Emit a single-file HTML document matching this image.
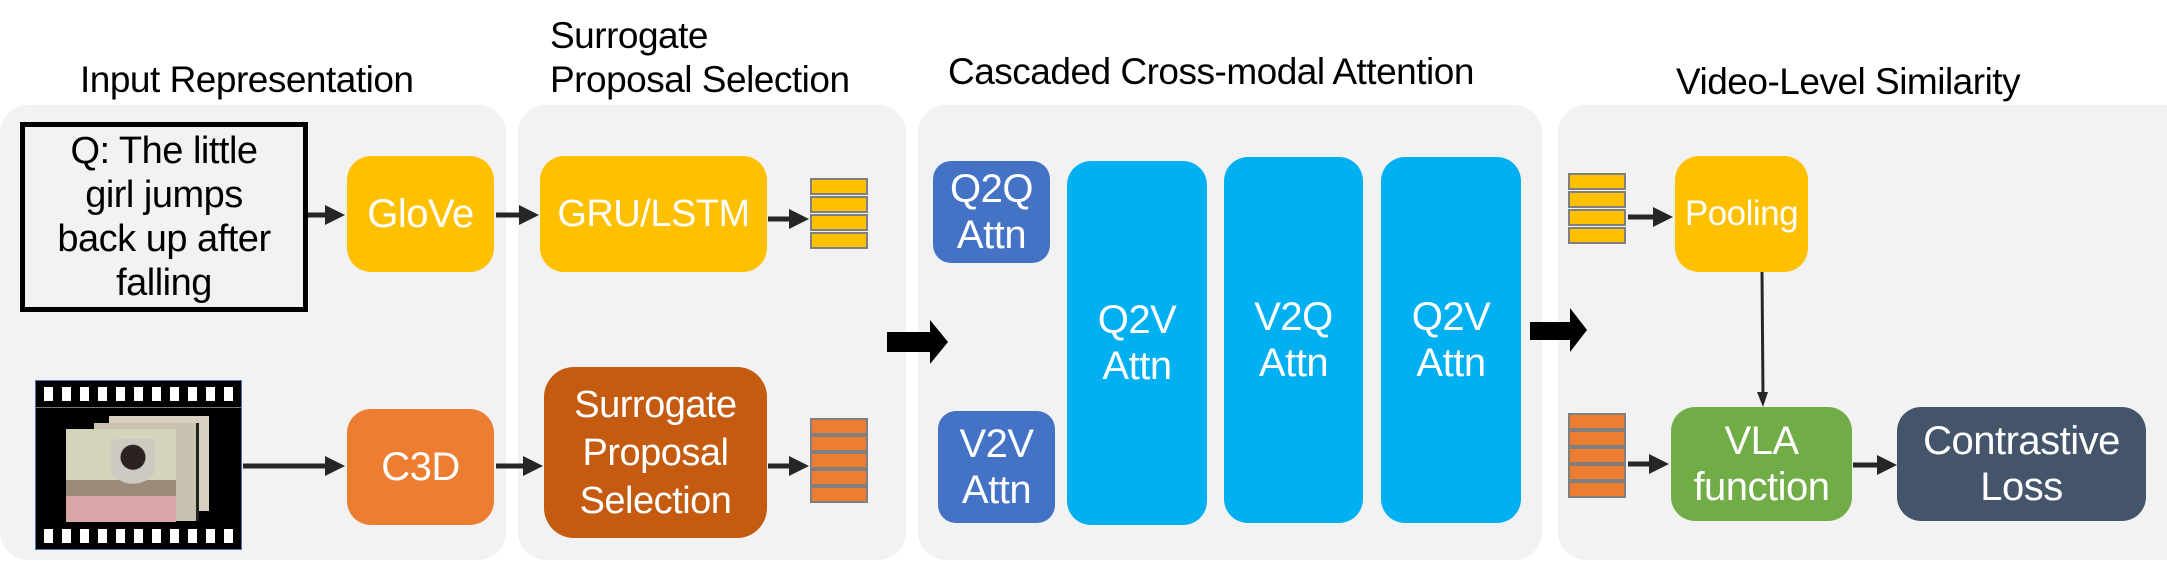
<!DOCTYPE html>
<html><head><meta charset="utf-8"><style>
body{margin:0;width:2167px;height:563px;background:#fff;position:relative;overflow:hidden;font-family:"Liberation Sans",sans-serif;}
.a{position:absolute;box-sizing:border-box;}
.p{background:#f2f2f2;border-radius:28px;}
.t{color:#000;font-size:37px;line-height:44px;white-space:nowrap;letter-spacing:-0.5px;}
.n{display:flex;align-items:center;justify-content:center;text-align:center;color:#fff;font-size:40px;line-height:46px;border-radius:24px;letter-spacing:-0.5px;}
.y{background:#FFC000}.o{background:#ED7D31}.b{background:#4472C4}.c{background:#00B0F0}
.bar{position:absolute;left:0;width:58px;border:2px solid #7f7f7f;box-sizing:border-box;}
</style></head><body>
<div class="a p" style="left:0;top:105px;width:506px;height:455px"></div>
<div class="a p" style="left:518px;top:105px;width:388px;height:455px"></div>
<div class="a p" style="left:918px;top:105px;width:624px;height:455px"></div>
<div class="a p" style="left:1558px;top:105px;width:640px;height:455px"></div>

<div class="a t" style="left:80px;top:58px">Input Representation</div>
<div class="a t" style="left:550px;top:14px">Surrogate<br>Proposal Selection</div>
<div class="a t" style="left:948px;top:50px">Cascaded Cross-modal Attention</div>
<div class="a t" style="left:1676px;top:60px">Video-Level Similarity</div>

<div class="a" style="left:20px;top:122px;width:288px;height:190px;border:5px solid #000;background:#f2f2f2;display:flex;align-items:center;justify-content:center;text-align:center;font-size:38px;line-height:44px;letter-spacing:-0.5px">Q: The little<br>girl jumps<br>back up after<br>falling</div>

<!-- film -->
<div class="a" style="left:35px;top:380px;width:207px;height:170px;background:#000;border:1px solid #4a78b0;overflow:hidden">
 <div class="a" style="left:4px;top:0;width:200px;height:26px;background:repeating-linear-gradient(90deg,#000 0 4px,#fff 4px 13px,#000 13px 18px);clip-path:inset(6px 0 6px 0)"></div>
 <div class="a" style="left:4px;top:142px;width:200px;height:26px;background:repeating-linear-gradient(90deg,#000 0 4px,#fff 4px 13px,#000 13px 18px);clip-path:inset(6px 0 6px 0)"></div>
 <div class="a" style="left:0;top:26px;width:207px;height:1px;background:#777"></div>
 <div class="a" style="left:73px;top:35px;width:100px;height:95px;background:#d8d0c0"></div>
 <div class="a" style="left:58px;top:42px;width:105px;height:98px;background:#c9c2b0;border-right:3px solid #222"></div>
 <div class="a" style="left:30px;top:48px;width:110px;height:93px;background:linear-gradient(#d4d3bb 0 55%,#9b8a78 55% 72%,#d9a6a8 72%)"></div>
 <div class="a" style="left:75px;top:58px;width:44px;height:83px;background:radial-gradient(circle at 50% 22%,#2b2322 0 12px,#cfc9c4 13px 26px,transparent 27px)"></div>
</div>

<div class="a n y" style="left:347px;top:156px;width:147px;height:116px">GloVe</div>
<div class="a n o" style="left:347px;top:409px;width:147px;height:116px">C3D</div>
<div class="a n y" style="left:540px;top:156px;width:227px;height:116px;font-size:38px">GRU/LSTM</div>
<div class="a n" style="left:544px;top:367px;width:223px;height:171px;background:#C55A11;border-radius:30px;line-height:48px;font-size:38px">Surrogate<br>Proposal<br>Selection</div>

<div class="a" style="left:810px;top:178px;width:58px;height:72px">
 <div class="bar y" style="top:0;height:17px"></div><div class="bar y" style="top:18px;height:17px"></div><div class="bar y" style="top:36px;height:17px"></div><div class="bar y" style="top:54px;height:17px"></div></div>
<div class="a" style="left:810px;top:418px;width:58px;height:84px">
 <div class="bar o" style="top:0;height:17px"></div><div class="bar o" style="top:17px;height:17px"></div><div class="bar o" style="top:34px;height:17px"></div><div class="bar o" style="top:51px;height:17px"></div><div class="bar o" style="top:68px;height:17px"></div></div>

<div class="a n b" style="left:933px;top:161px;width:117px;height:102px;border-radius:18px">Q2Q<br>Attn</div>
<div class="a n b" style="left:938px;top:411px;width:117px;height:112px;border-radius:18px">V2V<br>Attn</div>
<div class="a n c" style="left:1067px;top:161px;width:140px;height:364px">Q2V<br>Attn</div>
<div class="a n c" style="left:1224px;top:157px;width:139px;height:366px">V2Q<br>Attn</div>
<div class="a n c" style="left:1381px;top:157px;width:140px;height:366px">Q2V<br>Attn</div>

<div class="a" style="left:1568px;top:173px;width:58px;height:72px">
 <div class="bar y" style="top:0;height:17px"></div><div class="bar y" style="top:18px;height:17px"></div><div class="bar y" style="top:36px;height:17px"></div><div class="bar y" style="top:54px;height:17px"></div></div>
<div class="a" style="left:1568px;top:413px;width:58px;height:84px">
 <div class="bar o" style="top:0;height:17px"></div><div class="bar o" style="top:17px;height:17px"></div><div class="bar o" style="top:34px;height:17px"></div><div class="bar o" style="top:51px;height:17px"></div><div class="bar o" style="top:68px;height:17px"></div></div>

<div class="a n y" style="left:1675px;top:156px;width:133px;height:116px;font-size:35px">Pooling</div>
<div class="a n" style="left:1671px;top:407px;width:181px;height:114px;background:#70AD47">VLA<br>function</div>
<div class="a n" style="left:1897px;top:407px;width:249px;height:114px;background:#44546A">Contrastive<br>Loss</div>

<svg class="a" style="left:0;top:0" width="2167" height="563">
 <defs><marker id="m" markerWidth="4" markerHeight="4" refX="3" refY="2" orient="auto"><path d="M0,0L4,2L0,4z" fill="#262626"/></marker></defs>
 <g stroke="#262626" stroke-width="5" fill="none" marker-end="url(#m)">
  <line x1="308" y1="215" x2="340" y2="215"/>
  <line x1="243" y1="466" x2="340" y2="466"/>
  <line x1="496" y1="215" x2="534" y2="215"/>
  <line x1="496" y1="466" x2="538" y2="466"/>
  <line x1="768" y1="219" x2="804" y2="219"/>
  <line x1="768" y1="466" x2="804" y2="466"/>
  <line x1="1628" y1="217" x2="1668" y2="217"/>
  <line x1="1628" y1="464" x2="1664" y2="464"/>
  <line x1="1853" y1="465" x2="1892" y2="465"/>
 </g>
 <line x1="1762" y1="272" x2="1763" y2="395" stroke="#262626" stroke-width="3"/>
 <path d="M1757,392L1768,392L1763,407z" fill="#262626"/>
 <path d="M887,332L930,332L930,320L948,342L930,364L930,352L887,352z" fill="#000"/>
 <path d="M1530,322L1570,322L1570,308L1587,330L1570,352L1570,340L1530,340z" fill="#000"/>
</svg>
</body></html>
